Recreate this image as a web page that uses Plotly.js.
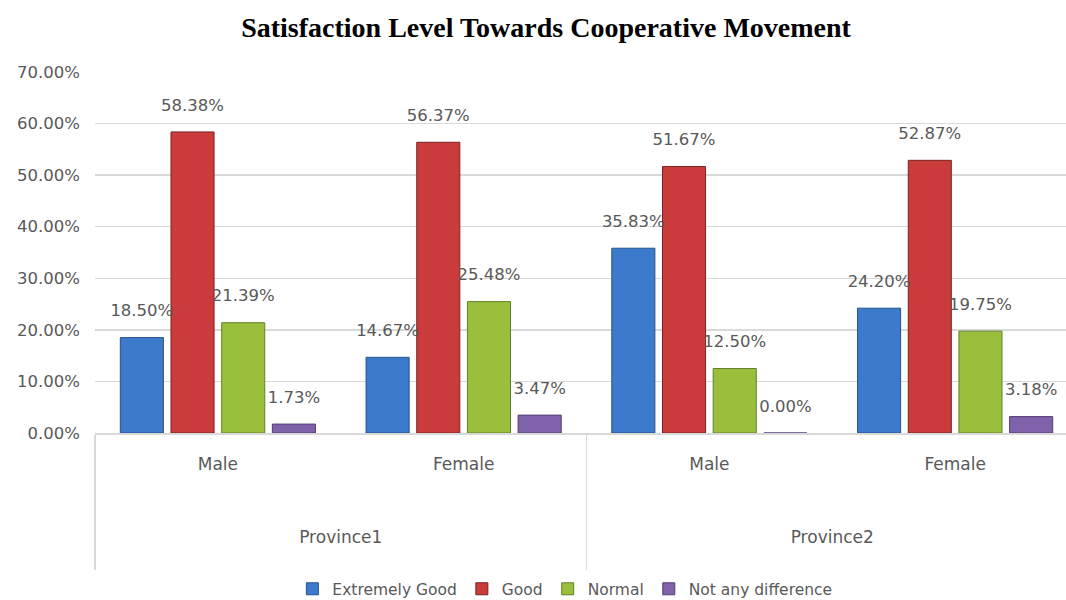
<!DOCTYPE html>
<html>
<head>
<meta charset="utf-8">
<script src="https://cdn.plot.ly/plotly-3.0.1.min.js"></script>
<style>html,body{margin:0;padding:0;overflow:hidden;background:#fff;}#chart{width:1080px;height:600px;}</style>
</head>
<body>
<div id="chart"></div>
<script>
const provinces = ["Province1", "Province1", "Province2", "Province2"];
const genders = ["Male", "Female", "Male", "Female"];
const seriesNames = ["Extremely Good", "Good", "Normal", "Not any difference"];
const extremelyGood = [18.50, 14.67, 35.83, 24.20];
const good = [58.38, 56.37, 51.67, 52.87];
const normal = [21.39, 25.48, 12.50, 19.75];
const notAnyDifference = [1.73, 3.47, 0.00, 3.18];
const yTicks = [0, 10, 20, 30, 40, 50, 60, 70];

const seriesValues = [extremelyGood, good, normal, notAnyDifference];
const colors = ["#3c7bcb", "#c93c3b", "#9abf3d", "#8062ab"];
const lineColors = ["#27518a", "#7d2222", "#62802a", "#523d73"];
const FONT = "'DejaVu Sans', Verdana, sans-serif";
const GREY = "#595959";

// display labels for the two category levels (extra blank lines give the spacing of the reference)
const provinceLabels = provinces.map(p => p + "<br> ");
const genderLabels = genders.map(g => g + "<br> <br> <br> ");

const barTraces = seriesValues.map((vals, i) => ({
  type: "bar",
  name: seriesNames[i],
  x: [provinceLabels, genderLabels],
  y: vals,
  marker: {color: colors[i], line: {color: lineColors[i], width: 1}},
  offsetgroup: String(i),
  hoverinfo: "skip"
}));

const labelTraces = seriesValues.map((vals, i) => ({
  type: "scatter",
  mode: "markers+text",
  name: seriesNames[i] + " labels",
  showlegend: false,
  x: [provinceLabels, genderLabels],
  y: vals,
  offsetgroup: String(i),
  marker: {size: 26, color: "rgba(0,0,0,0)"},
  text: vals.map(v => v.toFixed(2) + "%"),
  textposition: "top center",
  textfont: {family: FONT, size: 16.5, color: GREY},
  cliponaxis: false,
  hoverinfo: "skip"
}));

const layout = {
  width: 1080,
  height: 600,
  margin: {l: 95, r: 2, t: 72, b: 167},
  paper_bgcolor: "#fff",
  plot_bgcolor: "#fff",
  barmode: "group",
  bargap: 0.175,
  bargroupgap: 0.15,
  scattermode: "group",
  scattergap: 0.175,
  title: {
    text: "<b>Satisfaction Level Towards Cooperative Movement</b>",
    font: {family: "'Liberation Serif', 'Times New Roman', serif", size: 28, color: "#000"},
    x: 0.5056, xanchor: "center", xref: "container",
    y: 0.955, yanchor: "middle", yref: "container"
  },
  yaxis: {
    range: [0, 70],
    tickvals: yTicks,
    ticktext: yTicks.map(v => v.toFixed(2) + "%"),
    showgrid: true,
    gridcolor: "#d9d9d9",
    gridwidth: 1.5,
    zeroline: false,
    showline: false,
    ticks: "",
    ticklabelstandoff: 14,
    automargin: false,
    tickfont: {family: FONT, size: 16.5, color: GREY}
  },
  xaxis: {
    type: "multicategory",
    showline: true,
    linecolor: "#d9d9d9",
    linewidth: 1.5,
    showdividers: true,
    dividercolor: "#d9d9d9",
    dividerwidth: 1.5,
    ticks: "",
    ticklabelstandoff: 15,
    automargin: false,
    tickfont: {family: FONT, size: 17, color: GREY}
  },
  legend: {
    orientation: "h",
    x: 0.478, xanchor: "center",
    y: 0.018, yanchor: "middle", yref: "container",
    font: {family: FONT, size: 15.5, color: GREY},
    itemwidth: 30
  },
  showlegend: true
};

Plotly.newPlot("chart", barTraces.concat(labelTraces), layout, {displayModeBar: false, staticPlot: true});
</script>
</body>
</html>
